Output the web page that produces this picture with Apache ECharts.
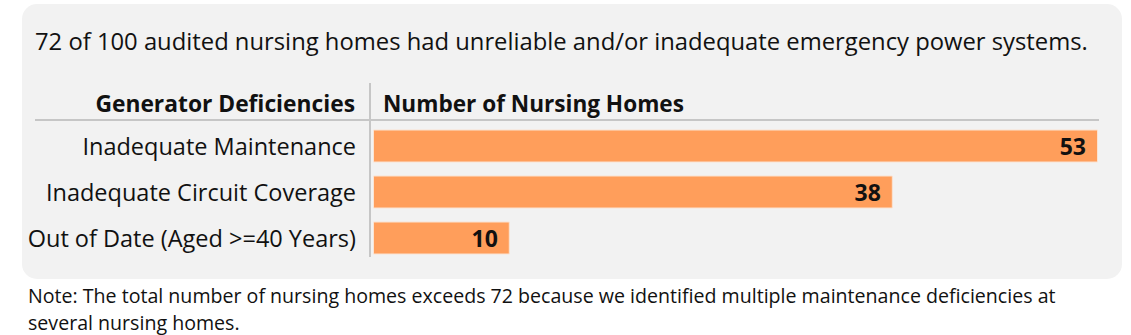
<!DOCTYPE html>
<html>
<head>
<meta charset="utf-8">
<script src="https://cdn.jsdelivr.net/npm/echarts@6/dist/echarts.min.js"></script>
<style>
html,body{margin:0;padding:0;background:#fff;}
#chart{width:1131px;height:335px;}
</style>
</head>
<body>
<div id="chart"></div>
<script>
const categories = ["Inadequate Maintenance", "Inadequate Circuit Coverage", "Out of Date (Aged >=40 Years)"];
const values = [53, 38, 10];
const titleText = "72 of 100 audited nursing homes had unreliable and/or inadequate emergency power systems.";
const headerLeft = "Generator Deficiencies";
const headerRight = "Number of Nursing Homes";
const noteLines = ["Note: The total number of nursing homes exceeds 72 because we identified multiple maintenance deficiencies at", "several nursing homes."];

const FONT = 'Open Sans';
function txt(text, x, y, size, weight, align, lh) {
  return {type: 'text', x: x, y: y, style: {text: text, fontSize: size, fontFamily: FONT, fontWeight: weight || 'normal', fill: '#111', align: align || 'left', verticalAlign: 'middle', lineHeight: lh || undefined}};
}
const chart = echarts.init(document.getElementById('chart'), null, {renderer: 'svg'});
chart.setOption({
  animation: false,
  backgroundColor: '#ffffff',
  textStyle: {fontFamily: FONT},
  grid: {left: 373, right: 33, top: 123, height: 138, containLabel: false},
  xAxis: {type: 'value', min: 0, max: 53, show: false},
  yAxis: {
    type: 'category', data: categories, inverse: true,
    axisLine: {show: false}, axisTick: {show: false},
    axisLabel: {fontSize: 23.5, color: '#111', margin: 17, fontFamily: FONT}
  },
  series: [{
    type: 'bar', data: values, barWidth: 33,
    itemStyle: {color: '#ff9e5b', borderColor: '#fbe3d2', borderWidth: 1},
    label: {show: true, position: 'insideRight', distance: 12, fontSize: 23, fontWeight: 'bold', color: '#111', fontFamily: FONT}
  }],
  graphic: [
    {type: 'rect', z: -10, shape: {x: 22, y: 4, width: 1100, height: 275, r: 15}, style: {fill: '#f2f2f2'}},
    txt(titleText, 35, 41, 23.8),
    txt(headerLeft, 355, 103, 22.8, 'bold', 'right'),
    txt(headerRight, 383, 103, 22.6, 'bold', 'left'),
    {type: 'line', shape: {x1: 35, y1: 120, x2: 1099, y2: 120}, style: {stroke: '#c6c6c6', lineWidth: 2}},
    {type: 'line', shape: {x1: 370, y1: 83, x2: 370, y2: 257}, style: {stroke: '#c6c6c6', lineWidth: 2}},
    txt(noteLines[0], 28, 295, 19.6),
    txt(noteLines[1], 28, 322, 19.6)
  ]
});
</script>
</body>
</html>
